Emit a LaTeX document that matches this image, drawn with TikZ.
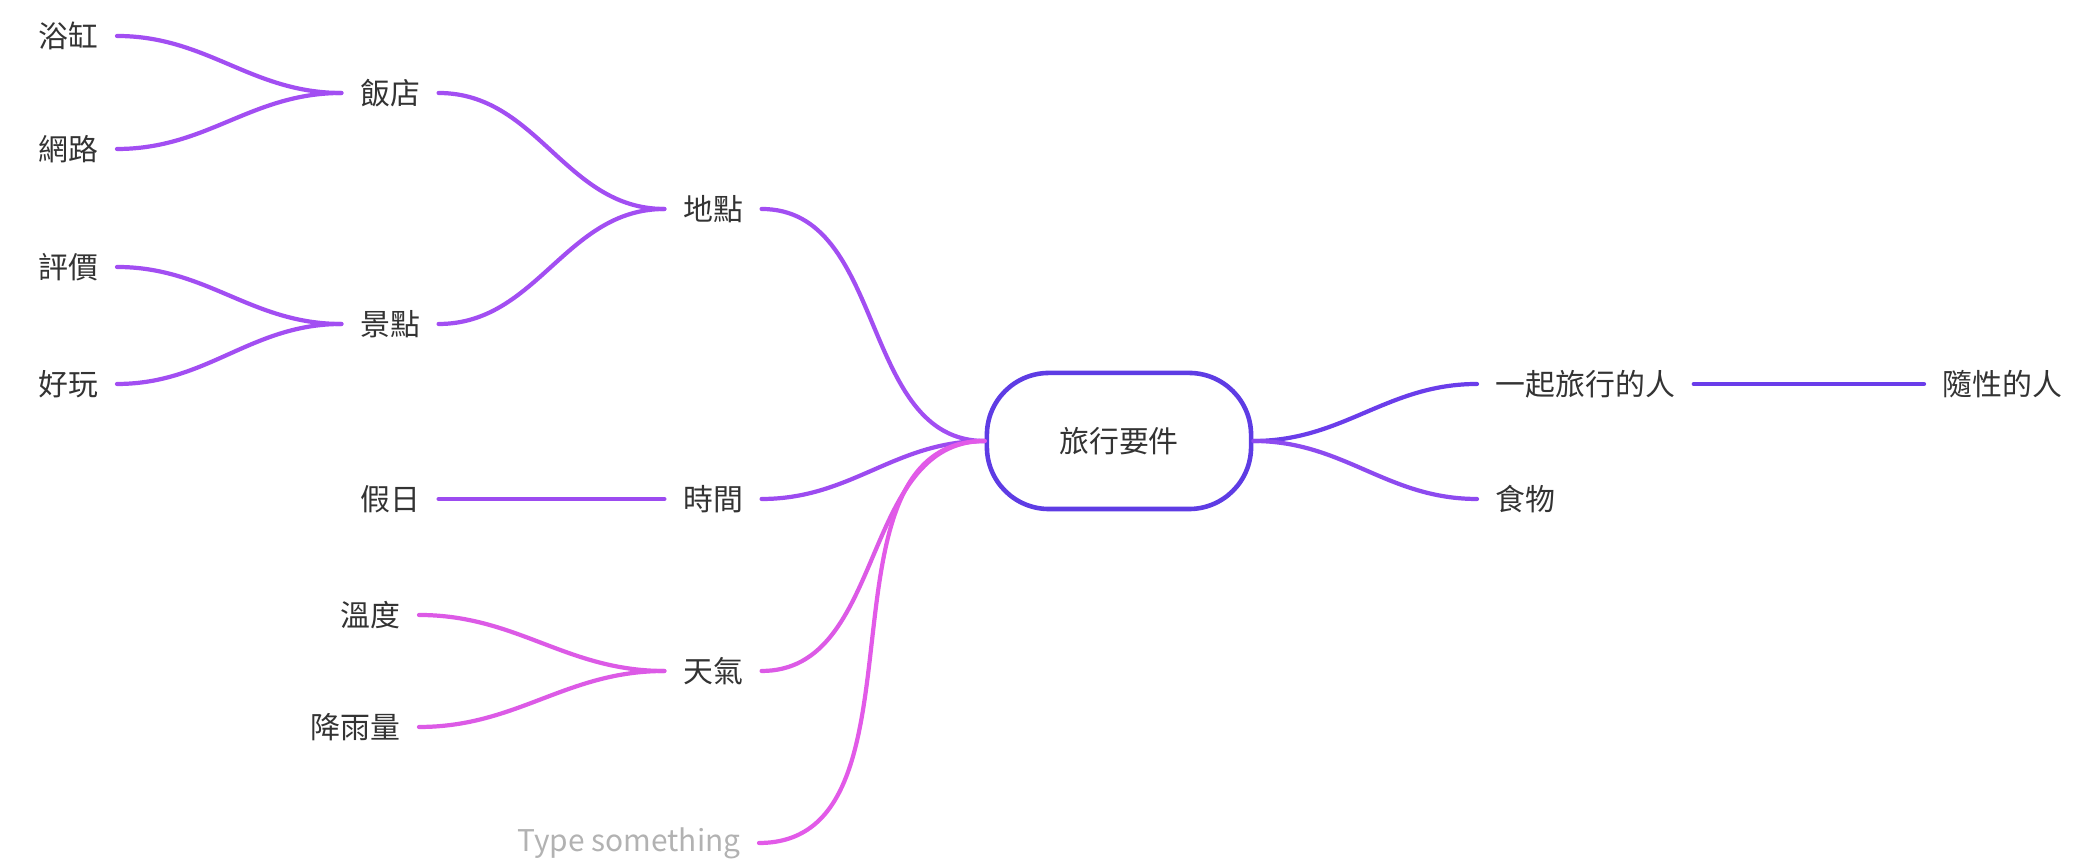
\documentclass[tikz,border=0pt]{standalone}
\usepackage{fontspec}
\setmainfont{Noto Sans CJK TC}
\definecolor{placec}{HTML}{A24EF2}
\definecolor{timec}{HTML}{9C4BF0}
\definecolor{weatherc}{HTML}{DC5AE6}
\definecolor{typec}{HTML}{E25AE8}
\definecolor{hubc}{HTML}{5E3CE4}
\definecolor{peoplec}{HTML}{6A3DEA}
\definecolor{foodc}{HTML}{8D4AEF}
\begin{document}
\begin{tikzpicture}[x=0.01cm, y=-0.01cm,
		every node/.style={font=\fontsize{8.5}{10}\selectfont, text=black!80, inner xsep=0.18cm, inner ysep=0.05cm},
		branch/.style={line width=1.2pt, line cap=round},
		hubbox/.style={draw=hubc, line width=1.3pt, rounded corners=0.62cm, minimum width=2.64cm, minimum height=1.36cm}
		]
	\useasboundingbox (0,0) rectangle (2074,865);
	% centre
	\node [hubbox] (hub) at (1119,441) {旅行要件};
	% left side
	\node (place) at (713,209) {地點};
	\node (time) at (713,499) {時間};
	\node (weather) at (713,671) {天氣};
	\node [anchor=east, text=black!30] (type) at (759,843) {Type something};
	\node (hotel) at (390,93) {飯店};
	\node (sight) at (390,324) {景點};
	\node (holiday) at (390,499) {假日};
	\node [anchor=east] (temp) at (419,615) {溫度};
	\node [anchor=east] (rain) at (419,727) {降雨量};
	\node [anchor=east] (bath) at (117,36) {浴缸};
	\node [anchor=east] (net) at (117,149) {網路};
	\node [anchor=east] (rate) at (117,267) {評價};
	\node [anchor=east] (fun) at (117,384) {好玩};
	% right side
	\node [anchor=west] (mates) at (1477,384) {一起旅行的人};
	\node [anchor=west] (food) at (1477,499) {食物};
	\node [anchor=west] (easy) at (1924,384) {隨性的人};

	\draw [branch, placec] (place.east) to[out=0,in=180] (hub.west);
	\draw [branch, timec] (time.east) to[out=0,in=180] (hub.west);
	\draw [branch, weatherc] (weather.east) to[out=0,in=180] (hub.west);
	\draw [branch, typec] (type.east) to[out=0,in=180] (hub.west);
	\draw [branch, placec] (hotel.east) to[out=0,in=180] (place.west);
	\draw [branch, placec] (sight.east) to[out=0,in=180] (place.west);
	\draw [branch, placec] (bath.east) to[out=0,in=180] (hotel.west);
	\draw [branch, placec] (net.east) to[out=0,in=180] (hotel.west);
	\draw [branch, placec] (rate.east) to[out=0,in=180] (sight.west);
	\draw [branch, placec] (fun.east) to[out=0,in=180] (sight.west);
	\draw [branch, timec] (holiday.east) -- (time.west);
	\draw [branch, weatherc] (temp.east) to[out=0,in=180] (weather.west);
	\draw [branch, weatherc] (rain.east) to[out=0,in=180] (weather.west);
	\draw [branch, peoplec] (hub.east) to[out=0,in=180] (mates.west);
	\draw [branch, foodc] (hub.east) to[out=0,in=180] (food.west);
	\draw [branch, peoplec] (mates.east) -- (easy.west);
\end{tikzpicture}
\end{document}
